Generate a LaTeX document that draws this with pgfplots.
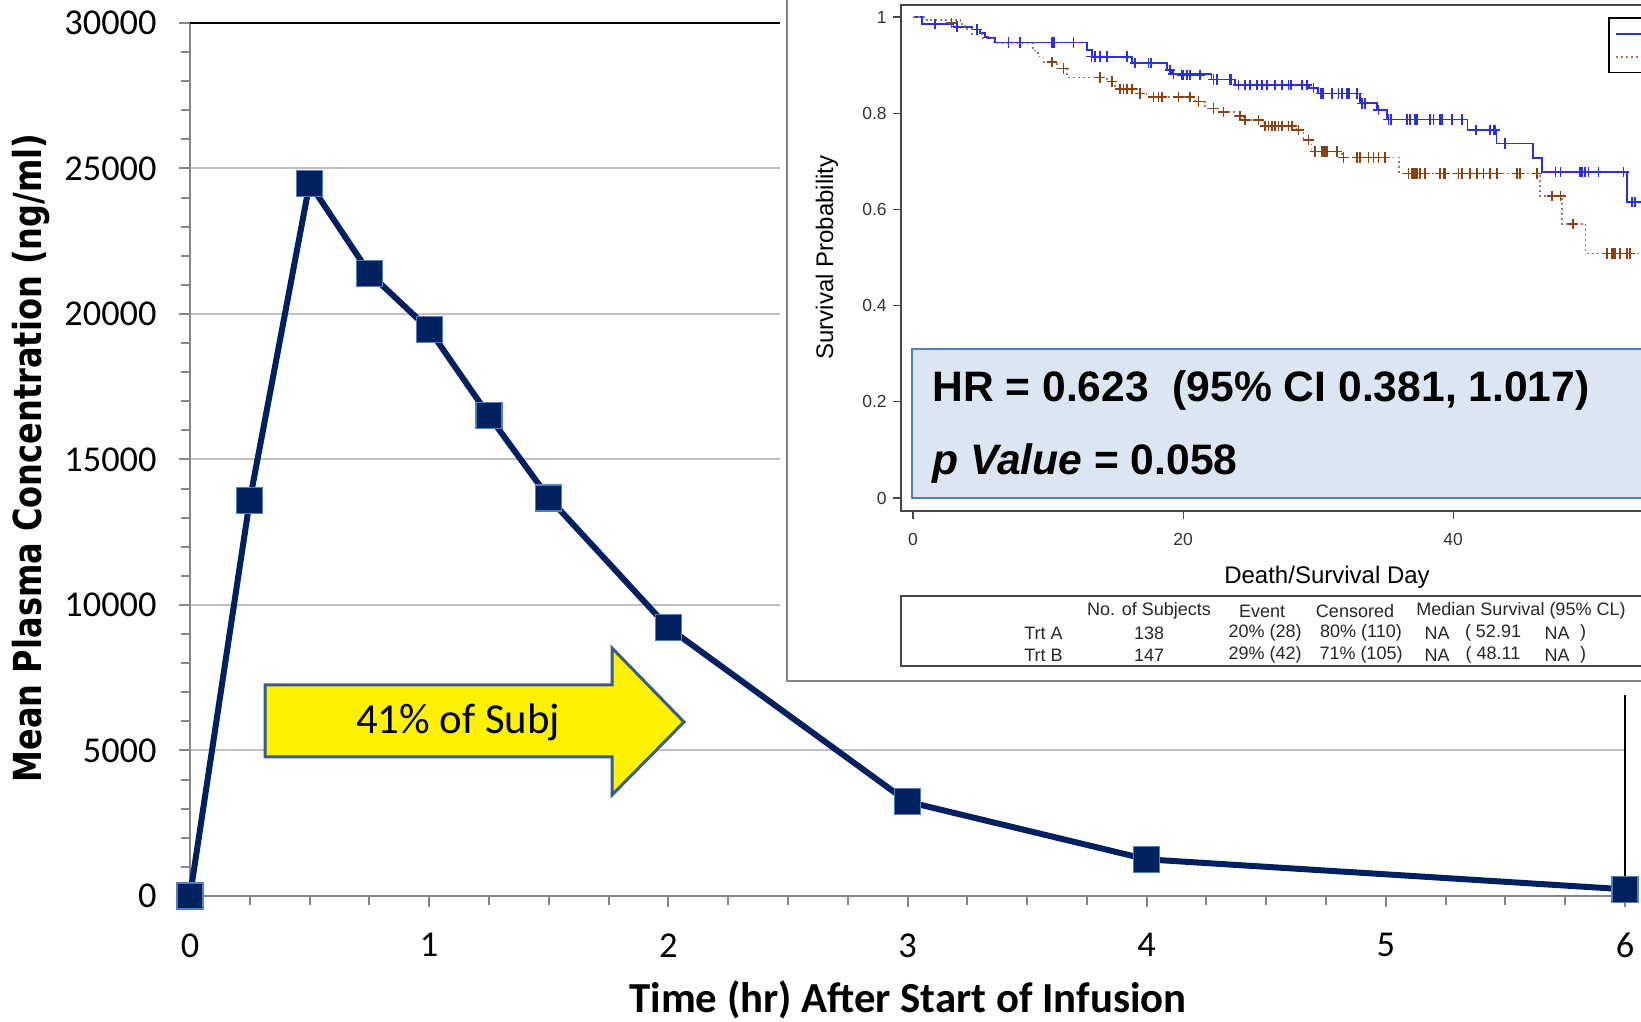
\documentclass[border=0pt]{standalone}
\usepackage{fontspec}
\usepackage{graphicx}
\usepackage{pgfplots}
\pgfplotsset{compat=1.18}
\setmainfont{Carlito}
\newfontfamily\arialfont{Liberation Sans}
\newfontfamily\dejavufont{DejaVu Sans}
\definecolor{navy}{RGB}{0,32,96}
\definecolor{markedge}{RGB}{79,129,189}
\definecolor{axisgray}{RGB}{134,134,134}
\definecolor{gridgray}{RGB}{191,191,191}
\definecolor{kmblue}{RGB}{45,45,225}
\definecolor{kmbrown}{RGB}{135,65,20}
\definecolor{kmdot}{RGB}{150,120,100}
\definecolor{boxfill}{RGB}{220,230,242}
\definecolor{boxedge}{RGB}{79,129,189}
\definecolor{arrowedge}{RGB}{56,93,138}
\definecolor{framegray}{RGB}{70,70,70}
\definecolor{insetgray}{RGB}{130,130,130}

\begin{document}
\begin{tikzpicture}
\useasboundingbox (0,0) rectangle (820.5pt,510.5pt);
\clip (0,0) rectangle (820.5pt,510.5pt);

% ---------------- concentration-time profile ----------------
\begin{axis}[
  at={(95pt,62.5pt)}, anchor=south west,
  scale only axis, width=717.5pt, height=436.5pt,
  xmin=0, xmax=6, ymin=0, ymax=30000,
  axis line style={draw=none},
  xtick={0,1,...,6}, minor x tick num=3,
  ytick={0,5000,...,30000}, minor y tick num=4,
  xtick pos=left, ytick pos=left,
  tick align=outside,
  major tick length=5.5pt, minor tick length=4.5pt,
  tick style={draw=axisgray, line width=1pt},
  ymajorgrids, major grid style={draw=gridgray, line width=1pt},
  scaled y ticks=false,
  /pgf/number format/1000 sep={},
  /pgf/number format/assume math mode=true,
  tick label style={font=\fontsize{18.2}{21}\selectfont, text=black},
  yticklabel style={anchor=east, inner sep=0pt, xshift=-11pt},
  xticklabel style={anchor=north, inner sep=0pt, yshift=-13pt},
  xlabel={Time (hr) After Start of Infusion},
  ylabel={\scalebox{0.83}[1]{\dejavufont\bfseries Mean Plasma Concentration (ng/ml)}},
  xlabel style={at={(axis description cs:0.5003,-0.1191)}, anchor=center,
                font=\fontsize{21.4}{25}\selectfont\bfseries},
  ylabel style={at={(axis description cs:-0.1108,0.5017)}, anchor=center,
                font=\fontsize{19.3}{23}\selectfont},
  clip=false,
]
\draw[axisgray, line width=1pt] (axis cs:0,0) -- (axis cs:6,0);
\draw[axisgray, line width=1pt] (axis cs:0,0) -- (axis cs:0,30000);
\draw[black, line width=1pt] (axis cs:0,30000) -- (axis cs:6,30000) -- (axis cs:6,0);
\addplot[color=navy, line width=3pt, mark=square*, mark size=6.5pt,
         mark options={fill=navy, draw=markedge, line width=0.6pt}]
  coordinates {(0,0) (0.25,13600) (0.5,24490) (0.75,21400) (1,19470)
               (1.25,16500) (1.5,13680) (2,9220) (3,3240) (4,1260) (6,230)};
\end{axis}

% call-out arrow
\draw[arrowedge, line width=1.5pt, fill=yellow, line join=miter]
  (132.5pt,168pt) -- (306pt,168pt) -- (306pt,186.5pt) -- (342pt,149.5pt)
  -- (306pt,113pt) -- (306pt,132pt) -- (132.5pt,132pt) -- cycle;
\node[font=\fontsize{21.4}{25}\selectfont] at (229pt,149.5pt) {41\% of Subj};

% ---------------- survival panel ----------------
\fill[white] (390pt,520pt) rectangle (830pt,163pt);
\draw[insetgray, line width=1pt] (393.5pt,520pt) -- (393.5pt,170pt) -- (830pt,170pt);

\begin{axis}[
  at={(450.5pt,255pt)}, anchor=south west,
  scale only axis, width=426pt, height=253pt,
  xmin=-0.89, xmax=62.2, ymin=-0.027, ymax=1.025,
  axis line style={draw=framegray, line width=1pt},
  xtick={0,20,40}, ytick={0,0.2,0.4,0.6,0.8,1},
  yticklabels={0,0.2,0.4,0.6,0.8,1},
  xtick pos=left, ytick pos=left,
  tick align=outside, major tick length=4pt,
  tick style={draw=framegray, line width=0.6pt},
  /pgf/number format/assume math mode=true,
  tick label style={font=\arialfont\fontsize{8.75}{10}\selectfont, text=black!80},
  yticklabel style={anchor=east, inner sep=0pt, xshift=-3pt},
  xticklabel style={anchor=north, inner sep=0pt, yshift=-7pt},
  xlabel={Death/Survival Day}, ylabel={Survival Probability},
  label style={font=\arialfont\fontsize{12}{14}\selectfont},
  xlabel style={at={(axis description cs:0.5,-0.1304)}, anchor=center},
  ylabel style={at={(axis description cs:-0.0869,0.501)}, anchor=center},
  legend style={at={(rel axis cs:0.8298,0.976)}, anchor=north west,
                draw=black, line width=0.8pt, fill=white,
                font=\arialfont\fontsize{9}{11}\selectfont},
  legend cell align=left,
]
\addplot[const plot, color=kmblue, line width=0.9pt] coordinates {
  (0,1) (0.64,0.985) (3.0,0.980) (4.35,0.974) (4.96,0.966) (5.33,0.959)
  (5.58,0.956) (6.07,0.947) (12.87,0.931) (13.24,0.9175) (16.2,0.904)
  (18.8,0.890) (19.2,0.881) (22.1,0.870) (23.85,0.859) (29.3,0.852)
  (30.0,0.841) (33.1,0.8205) (34.35,0.807) (35.1,0.787) (41.06,0.765)
  (43.2,0.737) (45.9,0.7075) (46.57,0.678) (52.87,0.616) (55,0.616)};
\addlegendentry{\phantom{Trt A}}
\addplot[const plot, color=kmdot, line width=0.8pt, dash pattern=on 0.9pt off 1.6pt] coordinates {
  (0,1) (1.0,0.994) (3.5,0.985) (3.85,0.975) (4.35,0.965) (5.2,0.955)
  (5.95,0.945) (8.9,0.930) (9.26,0.918) (9.65,0.906) (10.64,0.893)
  (11.4,0.8746) (14.35,0.866) (14.96,0.850) (16.57,0.841) (17.3,0.834)
  (20.9,0.824) (21.6,0.810) (22.6,0.803) (23.85,0.794) (24.5,0.786)
  (25.95,0.7734) (28.4,0.765) (28.9,0.744) (29.5,0.72) (31.75,0.708)
  (36.0,0.675) (46.44,0.628) (48.05,0.5696) (49.8,0.5087) (55,0.5087)};
\addlegendentry{\phantom{Trt B}}
% censored subjects, Trt A
\addplot[only marks, mark=+, mark size=2.6pt, color=kmblue,
         mark options={line width=0.8pt}, forget plot] coordinates {
  (1.63,0.985) (3.24,0.980) (4.72,0.974) (7.06,0.947) (7.93,0.947)
  (10.27,0.947) (10.44,0.947) (11.88,0.947) (13.23,0.9175) (13.48,0.9175)
  (13.85,0.9175) (14.35,0.9175) (15.83,0.9175) (16.44,0.904) (17.43,0.904)
  (17.6,0.904) (19.04,0.890) (19.28,0.881) (19.9,0.879) (20.02,0.879)
  (20.27,0.879) (20.52,0.879) (21.26,0.879) (22.25,0.870) (22.49,0.870)
  (23.43,0.870) (23.56,0.870) (24.1,0.859) (24.59,0.859) (24.96,0.859)
  (25.46,0.859) (25.83,0.859) (26.2,0.859) (26.81,0.859) (27.31,0.859)
  (27.8,0.859) (27.97,0.859) (28.79,0.859) (29.16,0.859) (29.65,0.852)
  (30.2,0.841) (30.35,0.841) (31.01,0.841) (31.51,0.841) (31.75,0.841)
  (32.12,0.841) (32.3,0.841) (32.86,0.841) (33.23,0.8205) (33.48,0.8205)
  (34.47,0.807) (35.21,0.787) (35.38,0.787) (36.57,0.787) (36.81,0.787)
  (37.19,0.787) (37.31,0.787) (38.3,0.787) (38.54,0.787) (39.04,0.787)
  (39.16,0.787) (39.9,0.787) (40.64,0.787) (41.7,0.765) (42.74,0.765)
  (42.99,0.765) (43.11,0.765) (43.85,0.737) (47.56,0.678) (47.93,0.678)
  (49.41,0.678) (49.54,0.678) (49.78,0.678) (50.02,0.678) (50.77,0.678)
  (52.62,0.678) (53.24,0.616) (53.48,0.616)};
% censored subjects, Trt B
\addplot[only marks, mark=+, mark size=2.6pt, color=kmbrown,
         mark options={line width=0.8pt}, forget plot] coordinates {
  (2.86,0.988) (10.27,0.906) (11.14,0.893) (13.85,0.8746) (14.72,0.866)
  (15.33,0.850) (15.58,0.850) (15.83,0.850) (16.2,0.850) (16.81,0.841)
  (17.8,0.834) (18.17,0.834) (18.42,0.834) (19.65,0.834) (20.52,0.834)
  (21.14,0.824) (22.25,0.810) (22.99,0.803) (24.22,0.794) (24.59,0.786)
  (25.58,0.786) (26.07,0.7734) (26.32,0.7734) (26.57,0.7734) (26.81,0.7734)
  (27.06,0.7734) (27.31,0.7734) (27.8,0.7734) (28.05,0.7734) (28.54,0.765)
  (29.28,0.744) (29.78,0.72) (30.27,0.72) (30.4,0.72) (30.52,0.72)
  (30.64,0.72) (31.38,0.72) (31.88,0.708) (32.86,0.708) (33.11,0.708)
  (33.73,0.708) (34.1,0.708) (34.47,0.708) (34.96,0.708) (36.69,0.675)
  (36.94,0.675) (37.06,0.675) (37.19,0.675) (37.31,0.675) (37.56,0.675)
  (37.93,0.675) (39.04,0.675) (39.28,0.675) (39.41,0.675) (40.4,0.675)
  (40.64,0.675) (41.26,0.675) (41.75,0.675) (42.25,0.675) (42.74,0.675)
  (43.23,0.675) (44.72,0.675) (44.96,0.675) (46.2,0.675) (47.31,0.628)
  (47.93,0.628) (48.86,0.5696) (51.38,0.5087) (51.75,0.5087) (51.88,0.5087)
  (52.0,0.5087) (52.37,0.5087) (52.86,0.5087) (53.11,0.5087)};
\end{axis}

% hazard ratio box
\draw[boxedge, line width=1pt, fill=boxfill] (456pt,336pt) rectangle (830pt,261.5pt);
\node[anchor=west, inner sep=0pt, font=\arialfont\bfseries\fontsize{21.3}{25}\selectfont]
  at (466pt,315.5pt) {HR = 0.623\ \ (95\% CI 0.381, 1.017)};
\node[anchor=west, inner sep=0pt, font=\arialfont\bfseries\fontsize{21.3}{25}\selectfont]
  at (466pt,279pt) {\itshape p Value\upshape{} = 0.058};

% summary table
\draw[framegray, line width=0.8pt] (850pt,212.5pt) -- (450.5pt,212.5pt) -- (450.5pt,177.5pt) -- (850pt,177.5pt);
\begin{scope}[every node/.style={inner sep=0pt, text=black!85, font=\arialfont\fontsize{9}{11}\selectfont}]
\node at (574.5pt,205pt) {No. of Subjects};
\node at (631pt,205pt) {Event};
\node at (677.5pt,205pt) {Censored};
\node at (760.5pt,205pt) {Median Survival (95\% CL)};
\node[anchor=east] at (531.5pt,194pt) {Trt A};
\node at (574.5pt,194pt) {138};
\node at (632.5pt,194pt) {20\% (28)};
\node at (680.5pt,194pt) {80\% (110)};
\node at (718.5pt,194pt) {NA};
\node at (746.5pt,194pt) {( 52.91};
\node at (778.5pt,194pt) {NA};
\node at (791.5pt,194pt) {)};
\node[anchor=east] at (531.5pt,183pt) {Trt B};
\node at (574.5pt,183pt) {147};
\node at (632.5pt,183pt) {29\% (42)};
\node at (680.5pt,183pt) {71\% (105)};
\node at (718.5pt,183pt) {NA};
\node at (746.5pt,183pt) {( 48.11};
\node at (778.5pt,183pt) {NA};
\node at (791.5pt,183pt) {)};
\end{scope}
\end{tikzpicture}
\end{document}
